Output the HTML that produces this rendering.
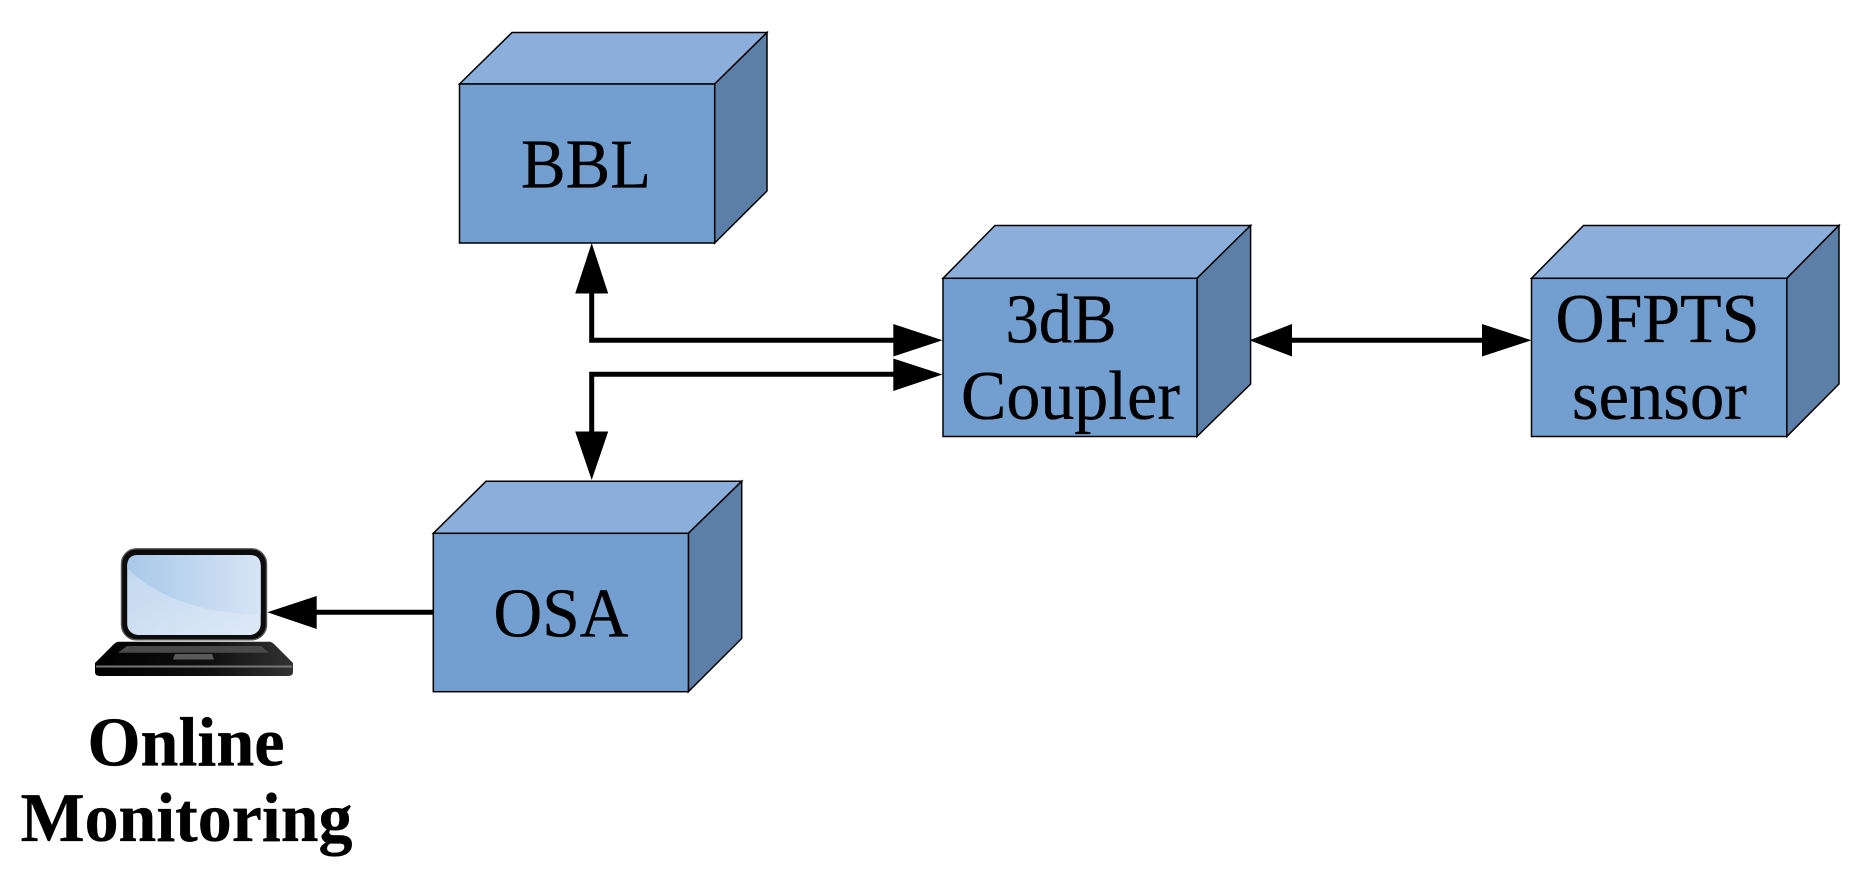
<!DOCTYPE html>
<html><head><meta charset="utf-8"><style>html,body{margin:0;padding:0;background:#fff}svg{display:block}
text{font-family:"Liberation Serif",serif;font-size:70px;fill:#000;stroke:#000;stroke-width:.35}</style></head><body>
<svg xmlns="http://www.w3.org/2000/svg" width="1864" height="873" viewBox="0 0 1864 873">
<defs>
<linearGradient id="scr" x1="0" y1="0" x2="1" y2="1"><stop offset="0" stop-color="#bfd6ef"/><stop offset="1" stop-color="#dfe9f7"/></linearGradient>
<linearGradient id="gl" x1="0" y1="0" x2="1" y2="0"><stop offset="0" stop-color="#a9c9ea"/><stop offset="1" stop-color="#d6e4f5"/></linearGradient>
<linearGradient id="bs" x1="0" y1="0" x2="1" y2="0"><stop offset="0" stop-color="#000"/><stop offset=".6" stop-color="#111"/><stop offset="1" stop-color="#333"/></linearGradient>
</defs>
<g stroke="#000" stroke-width="1.5" stroke-linejoin="miter">
<!-- BBL -->
<path d="M459.5 84L512 32.5H767L714.7 84Z" fill="#8bafda"/><path d="M714.7 84L767 32.5V191L714.7 243Z" fill="#5b7fa7"/><rect x="459.5" y="84" width="255.2" height="159" fill="#729fcf"/>
<!-- Coupler -->
<path d="M943 278.3L995 225.5H1250.6L1197 278.3Z" fill="#8bafda"/><path d="M1197 278.3L1250.6 225.5V384L1197 436.5Z" fill="#5b7fa7"/><rect x="943" y="278.3" width="254" height="158.2" fill="#729fcf"/>
<!-- OFPTS -->
<path d="M1531.5 278.3L1583.5 225.5H1839L1786.8 278.3Z" fill="#8bafda"/><path d="M1786.8 278.3L1839 225.5V384L1786.8 436.5Z" fill="#5b7fa7"/><rect x="1531.5" y="278.3" width="255.3" height="158.2" fill="#729fcf"/>
<!-- OSA -->
<path d="M433.3 533.3L486 481.3H741.7L688.4 533.3Z" fill="#8bafda"/><path d="M688.4 533.3L741.7 481.3V638.5L688.4 691.7Z" fill="#5b7fa7"/><rect x="433.3" y="533.3" width="255.1" height="158.4" fill="#729fcf"/>
</g>
<g fill="none" stroke="#000" stroke-width="5">
<path d="M591.7 290V340.3H896"/><path d="M896 374.3H591.7V435"/><path d="M1288 340.3H1486"/><path d="M314 612.3H433.3"/>
</g>
<g fill="#000">
<path d="M591.7 243L608.2 293.5H575.2Z"/>
<path d="M591.7 480L575.2 431.5H608.2Z"/>
<path d="M942.5 340.3L893.3 324V356.5Z"/>
<path d="M942.5 374.5L893.3 358.5V391Z"/>
<path d="M1249.5 340.3L1292 324V356.5Z"/>
<path d="M1531.5 340.3L1482 324V356.5Z"/>
<path d="M267.3 612.3L316.7 596V629Z"/>
</g>
<!-- laptop -->
<rect x="121.5" y="548.8" width="145" height="91" rx="15" fill="#0c0c0c" stroke="#555" stroke-width="1.4"/>
<rect x="127.2" y="555" width="133.5" height="80" rx="11" fill="url(#scr)"/>
<path d="M127.2 566Q127.2 555 138 555H250Q260.7 555 260.7 566V615C215 613 165 605 127.2 568Z" fill="url(#gl)"/>
<path d="M118 641.7H270Q272 642 274 644L293 663V672Q293 676 288 676H100Q95 676 95 672V663L114 644Q116 642 118 641.7Z" fill="url(#bs)"/>
<path d="M96 666.5H292" stroke="#777" stroke-width="2"/>
<path d="M127 646H261L269 652.7H118Z" fill="#4a4a4a"/>
<path d="M175 654H212L214 659.5H173Z" fill="#5a5a5a"/>
<!-- labels -->
<text x="521" y="187.5" textLength="130" lengthAdjust="spacingAndGlyphs">BBL</text>
<text x="1005.5" y="342.5" textLength="111" lengthAdjust="spacingAndGlyphs">3dB</text>
<text x="961" y="419" textLength="219" lengthAdjust="spacingAndGlyphs">Coupler</text>
<text x="1555.5" y="342" textLength="204" lengthAdjust="spacingAndGlyphs">OFPTS</text>
<text x="1572" y="418.8" textLength="175" lengthAdjust="spacingAndGlyphs">sensor</text>
<text x="493.5" y="636.5" textLength="135" lengthAdjust="spacingAndGlyphs">OSA</text>
<text x="87.5" y="765.5" font-weight="bold" textLength="197" lengthAdjust="spacingAndGlyphs">Online</text>
<text x="20.5" y="841" font-weight="bold" textLength="332" lengthAdjust="spacingAndGlyphs">Monitoring</text>
</svg>
</body></html>
